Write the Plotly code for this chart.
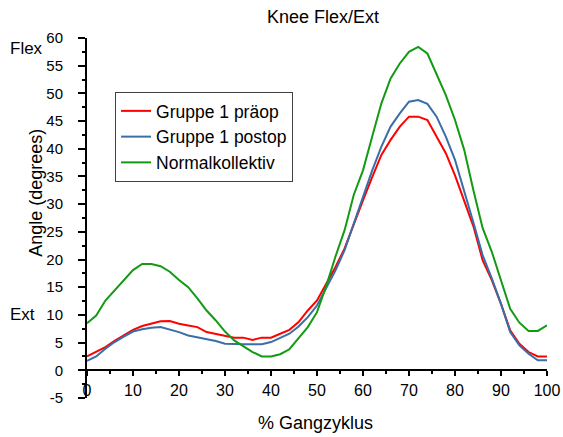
import plotly.graph_objects as go

pct = list(range(0, 101, 2))

gruppe1_praeop = [2.5, 3.3, 4.2, 5.3, 6.3, 7.3, 8.0, 8.4, 8.85, 8.9, 8.4, 8.1, 7.8, 6.9, 6.6, 6.3,
                  5.9, 5.9, 5.5, 5.9, 5.9, 6.6, 7.3, 8.7, 10.8, 12.6, 15.7, 18.6, 22.0, 26.5, 30.7,
                  34.9, 38.9, 41.6, 44.0, 45.8, 45.8, 45.2, 42.2, 39.2, 35.2, 30.7, 26.0, 19.9,
                  16.3, 12.0, 7.2, 4.8, 3.3, 2.5, 2.5]
gruppe1_postop = [1.7, 2.5, 3.9, 5.1, 6.1, 7.0, 7.4, 7.7, 7.8, 7.4, 6.9, 6.3, 6.0, 5.6, 5.3, 4.8,
                  4.7, 4.7, 4.7, 4.7, 5.1, 5.9, 6.6, 7.9, 9.6, 11.7, 14.8, 18.0, 21.7, 26.5, 31.0,
                  36.1, 40.4, 44.0, 46.4, 48.5, 48.8, 48.1, 45.8, 42.2, 38.0, 32.5, 26.7, 20.8,
                  16.6, 12.0, 6.9, 4.5, 3.0, 1.8, 1.8]
normalkollektiv = [8.5, 9.9, 12.6, 14.5, 16.3, 18.1, 19.2, 19.2, 18.8, 17.8, 16.3, 15.0, 13.0,
                   10.8, 9.0, 7.0, 5.4, 4.3, 3.3, 2.5, 2.5, 2.9, 3.8, 5.8, 7.8, 10.5, 15.2, 20.5,
                   25.3, 31.7, 36.1, 42.2, 48.2, 52.7, 55.4, 57.5, 58.4, 57.2, 53.6, 49.7, 45.2,
                   39.8, 32.5, 25.7, 21.4, 16.3, 11.1, 8.6, 7.1, 7.1, 8.1]

series_names = ["Gruppe 1 präop", "Gruppe 1 postop", "Normalkollektiv"]
series_values = [gruppe1_praeop, gruppe1_postop, normalkollektiv]
series_colors = ["#ff0000", "#3a6ea8", "#139a13"]

x_ticks = list(range(0, 101, 10))
y_ticks = list(range(-5, 61, 5))

FONT = "Arial, Liberation Sans, sans-serif"

fig = go.Figure()
for name, vals, col in zip(series_names, series_values, series_colors):
    fig.add_trace(go.Scatter(x=pct, y=vals, mode="lines", name=name,
                             line=dict(color=col, width=2)))

fig.update_layout(
    width=563, height=437,
    margin=dict(l=87, r=16, t=38, b=39, autoexpand=False),
    paper_bgcolor="white", plot_bgcolor="white",
    font=dict(family=FONT, size=16, color="black"),
    showlegend=True,
    legend=dict(x=0.061, y=0.85, xanchor="left", yanchor="top",
                bordercolor="#404040", borderwidth=1, bgcolor="white",
                font=dict(size=17.5, family=FONT), tracegroupgap=0),
    xaxis=dict(range=[0, 100], anchor="free", position=5 / 65, automargin=False,
               showgrid=False, zeroline=False, showline=True, linecolor="black", linewidth=2,
               ticks="outside", ticklen=5, tickwidth=2, tickcolor="black",
               tickvals=x_ticks, ticktext=[str(v) for v in x_ticks],
               tickfont=dict(size=16), ticklabelstandoff=0,
               minor=dict(tickvals=list(range(5, 100, 10)), ticks="outside", ticklen=3,
                          tickwidth=2, tickcolor="black")),
    yaxis=dict(range=[-5, 60], automargin=False, showgrid=False, zeroline=False,
               showline=True, linecolor="black", linewidth=2,
               ticks="outside", ticklen=7, tickwidth=2, tickcolor="black",
               tickvals=y_ticks, ticktext=[str(v) for v in y_ticks],
               tickfont=dict(size=15), ticklabelstandoff=12,
               minor=dict(dtick=2.5, tick0=-5, ticks="outside", ticklen=3,
                          tickwidth=2, tickcolor="black")),
    annotations=[
        dict(text="Knee Flex/Ext", xref="paper", yref="paper", x=0.513, y=1.0,
             xanchor="center", yanchor="middle", yshift=21, showarrow=False,
             font=dict(size=18)),
        dict(text="Angle (degrees)", xref="paper", yref="paper", x=-0.111, y=0.57,
             xanchor="center", yanchor="middle", textangle=-90, showarrow=False,
             font=dict(size=18)),
        dict(text="% Gangzyklus", xref="paper", yref="paper", x=0.497, y=0.0,
             xanchor="center", yanchor="middle", yshift=-25, showarrow=False,
             font=dict(size=18)),
        dict(text="Flex", xref="paper", yref="paper", x=-0.171, y=0.972,
             xanchor="left", yanchor="middle", showarrow=False, font=dict(size=17)),
        dict(text="Ext", xref="paper", yref="paper", x=-0.171, y=0.232,
             xanchor="left", yanchor="middle", showarrow=False, font=dict(size=17)),
    ],
)

fig.write_html("out.html")
